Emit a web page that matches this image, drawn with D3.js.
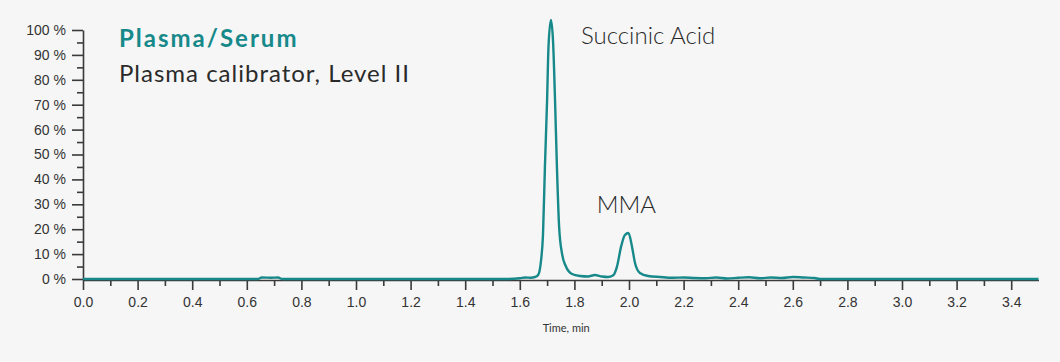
<!DOCTYPE html>
<html>
<head>
<meta charset="utf-8">
<script src="https://cdn.jsdelivr.net/npm/d3@7"></script>
<style>
  html, body { margin: 0; padding: 0; background: #f6f6f6; }
  svg { display: block; font-family: Lato, "Noto Sans", sans-serif; }
</style>
</head>
<body>
<svg id="chart" width="1060" height="362"></svg>
<script>
// chromatogram trace (time in min, signal in %)
const times = [0.00, 0.64, 0.655, 0.69, 0.714, 0.73, 1.55, 1.60, 1.62, 1.64, 1.656, 1.667,
  1.678, 1.685, 1.692, 1.700, 1.705, 1.714, 1.722, 1.729, 1.736, 1.744, 1.755, 1.769,
  1.791, 1.821, 1.850, 1.875, 1.901, 1.923, 1.941, 1.956, 1.971, 1.985, 1.998, 2.011,
  2.022, 2.040, 2.070, 2.114, 2.16, 2.20, 2.24, 2.28, 2.32, 2.36, 2.40, 2.44, 2.48,
  2.52, 2.56, 2.60, 2.64, 2.68, 2.70, 3.50];
const signal = [0, 0, 0.6, 0.5, 0.6, 0, 0, 0.3, 0.6, 0.5, 0.8, 1.6,
  7.6, 18, 45, 72, 93, 104, 95, 72, 45, 21, 10, 5,
  2, 1.2, 1.0, 1.6, 1.0, 0.8, 1.4, 5, 13, 17.7, 18.5, 13,
  6.4, 2.4, 1.2, 0.8, 0.5, 0.6, 0.4, 0.3, 0.6, 0.2, 0.5, 0.7, 0.3,
  0.6, 0.4, 0.8, 0.6, 0.4, 0, 0];

const xMajorTicks = [0, 0.2, 0.4, 0.6, 0.8, 1.0, 1.2, 1.4, 1.6, 1.8, 2.0, 2.2, 2.4, 2.6, 2.8, 3.0, 3.2, 3.4];
const xMinorTicks = [0.1, 0.3, 0.5, 0.7, 0.9, 1.1, 1.3, 1.5, 1.7, 1.9, 2.1, 2.3, 2.5, 2.7, 2.9, 3.1, 3.3];
const yMajorTicks = [0, 10, 20, 30, 40, 50, 60, 70, 80, 90, 100];
const yMinorTicks = [5, 15, 25, 35, 45, 55, 65, 75, 85, 95];

const peakLabels = [
  { name: "Succinic Acid", t: 1.824, v: 94.5 },
  { name: "MMA", t: 1.882, v: 26.5 }
];

const teal = "#17898a";
const ink = "#2a2a2a";

const svg = d3.select("#chart");

const x = d3.scaleLinear().domain([0, 3.5]).range([83, 1038.5]);
const y = d3.scaleLinear().domain([0, 100]).range([279, 30]);

// Y axis
svg.append("g").attr("transform", "translate(83,0)")
  .call(d3.axisLeft(y).tickValues(yMajorTicks).tickSize(11).tickSizeOuter(0)
    .tickPadding(6).tickFormat(d => d + " %"));
svg.append("g").attr("transform", "translate(83,0)")
  .call(d3.axisLeft(y).tickValues(yMinorTicks).tickSize(6).tickFormat(""))
  .select(".domain").remove();

// X axis
svg.append("g").attr("transform", "translate(0,280)")
  .call(d3.axisBottom(x).tickValues(xMajorTicks).tickSize(10).tickSizeOuter(0)
    .tickPadding(7).tickFormat(d3.format(".1f")));
svg.append("g").attr("transform", "translate(0,280)")
  .call(d3.axisBottom(x).tickValues(xMinorTicks).tickSize(6).tickFormat(""))
  .select(".domain").remove();

svg.selectAll(".tick line, .domain").attr("stroke", "#3a3a3a").attr("stroke-width", 1.6);
svg.selectAll(".tick text").attr("fill", "#333").attr("font-size", 14).attr("font-weight", 300);

svg.append("text")
  .attr("x", x(1.77)).attr("y", 332)
  .attr("text-anchor", "middle")
  .attr("font-size", 11).attr("fill", "#333")
  .text("Time, min");

// trace
const pts = times.map((t, i) => [t, signal[i]]);
const line = d3.line()
  .x(d => x(d[0]))
  .y(d => y(d[1]))
  .curve(d3.curveMonotoneX);

svg.append("path")
  .datum(pts)
  .attr("d", line)
  .attr("fill", "none")
  .attr("stroke", teal)
  .attr("stroke-width", 2.4)
  .attr("stroke-linejoin", "round");

// peak names
svg.selectAll(".peak")
  .data(peakLabels)
  .join("text")
  .attr("class", "peak")
  .attr("x", d => x(d.t))
  .attr("y", d => y(d.v))
  .attr("font-size", 24).attr("font-weight", 300)
  .attr("fill", ink)
  .text(d => d.name);

// titles
svg.append("text")
  .attr("x", 119).attr("y", 47)
  .attr("font-size", 24).attr("font-weight", 700)
  .attr("letter-spacing", 2)
  .attr("fill", teal)
  .text("Plasma/Serum");
svg.append("text")
  .attr("x", 119).attr("y", 82)
  .attr("font-size", 24).attr("font-weight", 400)
  .attr("letter-spacing", 1)
  .attr("fill", ink)
  .text("Plasma calibrator, Level II");
</script>
</body>
</html>
